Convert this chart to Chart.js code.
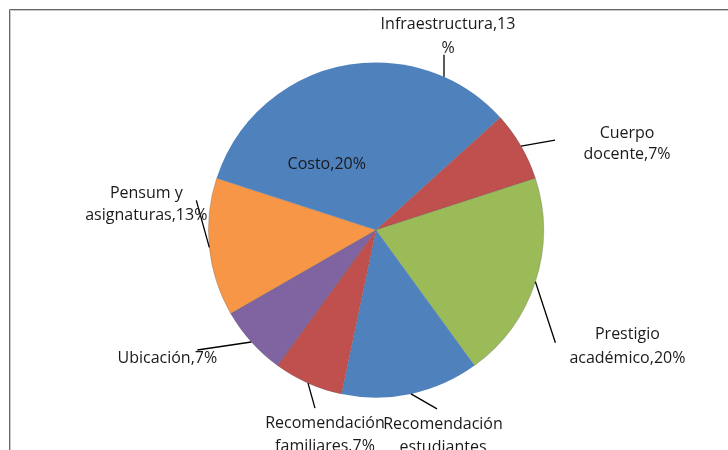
<!DOCTYPE html>
<html>
<head>
<meta charset="utf-8">
<script src="https://cdn.jsdelivr.net/npm/chart.js@4"></script>
<style>
  html, body { margin: 0; padding: 0; background: #fff; }
  #wrap { width: 728px; height: 450px; }
</style>
</head>
<body>
<div id="wrap"><canvas id="chart" width="728" height="450"></canvas></div>
<script>
// data, clockwise from the top
let categories = ["Infraestructura", "Cuerpo docente", "Prestigio académico", "Recomendación estudiantes",
    "Recomendación familiares", "Ubicación", "Pensum y asignaturas", "Costo"];
let values = [13.3, 6.7, 20, 13.3, 6.7, 6.7, 13.3, 20];
let colors = ["#4F81BD", "#C0504D", "#9BBB59", "#4F81BD", "#C0504D", "#8064A2", "#F79646", "#4F81BD"];
// label text, already broken into lines like the original
let labelLines = [
    ["Infraestructura,13", "%"],
    ["Cuerpo", "docente,7%"],
    ["Prestigio", "académico,20%"],
    ["Recomendación", "estudiantes"],
    ["Recomendación", "familiares,7%"],
    ["Ubicación,7%"],
    ["Pensum y", "asignaturas,13%"],
    ["Costo,20%"]
];

// label layout: leader end + text centre, as offsets from the slice's outer mid point
let labelLayout = [
    { line: [0, -22], text: [4, -42], lh: 24 },
    { line: [34, -6], text: [106, -4], lh: 21 },
    { line: [20, 61], text: [92, 63], lh: 24 },
    { line: [26, 15], text: [32, 40], lh: 23 },
    { line: [7, 25], text: [17, 50], lh: 23 },
    { line: [-54, 8], text: [-84, 14], lh: 22 },
    { line: [-13, -47], text: [-63, -45], lh: 22 },
    { inside: true }
];

const frame = {
    id: 'frame',
    beforeDraw(chart) {
        let ctx = chart.ctx;
        ctx.save();
        ctx.fillStyle = '#fff';
        ctx.fillRect(0, 0, chart.width, chart.height);
        ctx.lineWidth = 1;
        ctx.strokeStyle = '#c8c8c8';
        ctx.beginPath();
        ctx.moveTo(10.5, 460); ctx.lineTo(10.5, 10.5); ctx.lineTo(740, 10.5);
        ctx.stroke();
        ctx.strokeStyle = '#666';
        ctx.beginPath();
        ctx.moveTo(9.5, 460); ctx.lineTo(9.5, 9.5); ctx.lineTo(740, 9.5);
        ctx.stroke();
        ctx.restore();
    }
};

const pieLabels = {
    id: 'pieLabels',
    afterDatasetsDraw(chart) {
        let ctx = chart.ctx;
        let arcs = chart.getDatasetMeta(0).data;
        ctx.save();
        ctx.font = '16px "Open Sans", sans-serif';
        ctx.fillStyle = '#1a1a1a';
        ctx.textAlign = 'center';
        ctx.textBaseline = 'middle';
        arcs.forEach((arc, i) => {
            let mid = (arc.startAngle + arc.endAngle) / 2;
            let L = labelLayout[i];
            let lines = labelLines[i];
            let cx, cy, lh = L.lh || 22;
            if (L.inside) {
                cx = arc.x + Math.cos(mid) * arc.outerRadius * 0.5;
                cy = arc.y + Math.sin(mid) * arc.outerRadius * 0.5;
            } else {
                let px = arc.x + Math.cos(mid) * arc.outerRadius;
                let py = arc.y + Math.sin(mid) * arc.outerRadius;
                ctx.strokeStyle = '#000';
                ctx.lineWidth = 1.3;
                ctx.beginPath();
                ctx.moveTo(px, py);
                ctx.lineTo(px + L.line[0], py + L.line[1]);
                ctx.stroke();
                cx = px + L.text[0];
                cy = py + L.text[1];
            }
            // open sans sits a bit high with 'middle'
            let top = cy + 2 - (lines.length - 1) * lh / 2;
            lines.forEach((t, k) => ctx.fillText(t, cx, top + k * lh));
        });
        ctx.restore();
    }
};

new Chart(document.getElementById("chart"), {
    type: 'pie',
    data: {
        labels: categories,
        datasets: [{
            data: values,
            backgroundColor: colors,
            borderColor: 'rgba(80,80,80,0.35)',
            borderWidth: [0, 0.8, 0.8, 0, 0.8, 0.8, 0.8, 0]
        }]
    },
    options: {
        responsive: false,
        animation: false,
        layout: { padding: { top: 62, bottom: 52, left: 100, right: 76 } },
        plugins: {
            legend: { display: false },
            tooltip: { enabled: false }
        }
    },
    plugins: [frame, pieLabels]
});
</script>
</body>
</html>
